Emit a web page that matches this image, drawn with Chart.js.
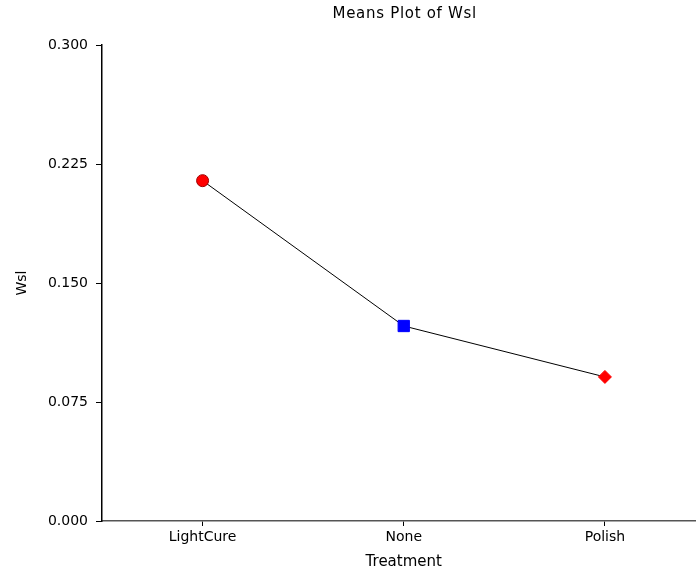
<!DOCTYPE html>
<html>
<head>
<meta charset="utf-8">
<script src="https://cdn.jsdelivr.net/npm/chart.js@4/dist/chart.umd.min.js"></script>
<style>
  html, body { margin: 0; padding: 0; background: #fff; overflow: hidden; }
</style>
</head>
<body>
<canvas id="myChart" width="713" height="575"></canvas>
<script>
const categorias = ['LightCure', 'None', 'Polish'];
const medias = [0.2145, 0.1229, 0.0908];
const yTicks = [0, 0.075, 0.15, 0.225, 0.3];

const fonte = '"DejaVu Sans", sans-serif';

// titulo centrado sobre a area do grafico
const tituloPlugin = {
    id: 'tituloPlugin',
    afterDraw(chart) {
        const c = chart.ctx;
        const area = chart.chartArea;
        c.save();
        c.font = '15px ' + fonte;
        c.letterSpacing = '0.7px';
        c.fillStyle = '#000';
        c.textAlign = 'center';
        c.textBaseline = 'middle';
        c.fillText('Means Plot of Wsl', (area.left + area.right) / 2 + 1, 14);
        c.restore();
    }
};

const ctx = document.getElementById('myChart');

new Chart(ctx, {
    type: 'line',
    data: {
        labels: categorias,
        datasets: [{
            label: 'Wsl',
            data: medias,
            borderColor: '#000',
            borderWidth: 1,
            pointStyle: ['circle', 'rect', 'rectRot'],
            pointRadius: [6, 8, 6.5],
            pointBackgroundColor: ['#ff0000', '#0000ff', '#ff0000'],
            pointBorderColor: ['#a00000', '#0000ff', '#ff0000'],
            pointBorderWidth: 1,
            tension: 0
        }]
    },
    options: {
        responsive: false,
        animation: false,
        layout: { padding: { top: 45, right: 0, left: 0, bottom: 0 } },
        plugins: {
            legend: { display: false },
            tooltip: { enabled: false }
        },
        scales: {
            x: {
                type: 'category',
                offset: true,
                grid: { drawOnChartArea: false, offset: false, tickLength: 5, color: '#000' },
                border: { color: '#555', width: 1.5 },
                ticks: { color: '#000', font: { family: fonte, size: 14 }, padding: 3 },
                title: { display: true, text: 'Treatment', color: '#000', font: { family: fonte, size: 15 }, padding: { top: 4 } },
                afterFit(scale) { scale.height = 54; }
            },
            y: {
                min: 0,
                max: 0.3,
                afterBuildTicks(scale) { scale.ticks = yTicks.map(v => ({ value: v })); },
                grid: { drawOnChartArea: false, tickLength: 6, color: '#000' },
                border: { color: '#000', width: 1.5 },
                ticks: {
                    color: '#000',
                    font: { family: fonte, size: 14 },
                    padding: 8,
                    callback: v => Number(v).toFixed(3)
                },
                title: { display: true, text: 'Wsl', color: '#000', font: { family: fonte, size: 14 }, padding: { top: 14, bottom: 4 } },
                afterFit(scale) { scale.width = 102; }
            }
        }
    },
    plugins: [tituloPlugin]
});
</script>
</body>
</html>
